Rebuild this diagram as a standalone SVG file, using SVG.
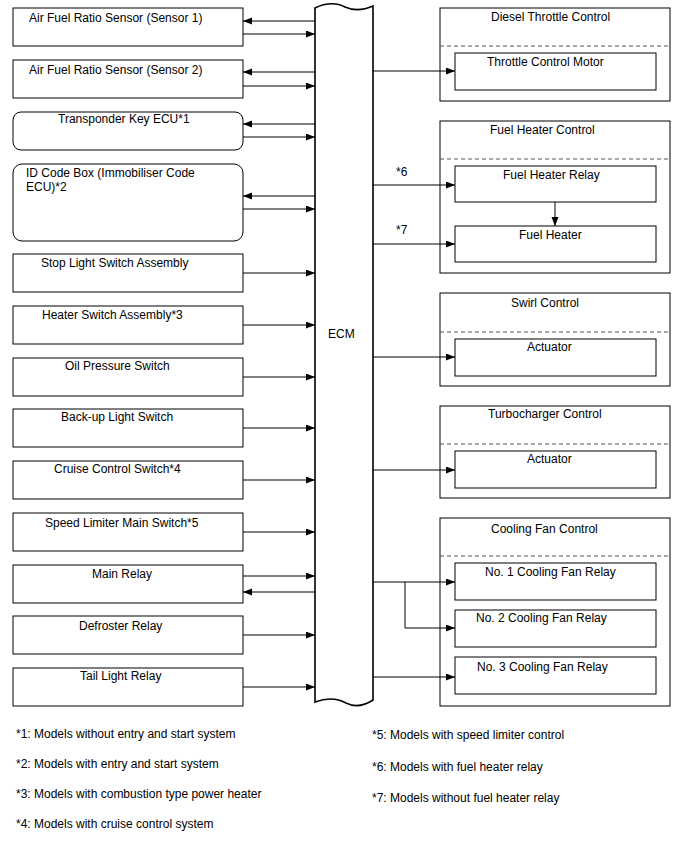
<svg xmlns="http://www.w3.org/2000/svg" width="688" height="852" viewBox="0 0 688 852">
<defs>
<marker id="ah" markerUnits="userSpaceOnUse" markerWidth="10" markerHeight="8" refX="9" refY="3.5" orient="auto">
<path d="M0,0 L9,3.5 L0,7 z" fill="#000"/>
</marker>
<style>
text{font-family:"Liberation Sans",Arial,sans-serif;font-size:12px;fill:#000}
.box{fill:#fff;stroke:#000;stroke-width:1}
.grp{fill:#fff;stroke:#000;stroke-width:1}
.dash{stroke:#555;stroke-width:1;stroke-dasharray:4,3;fill:none}
.c{stroke:#000;stroke-width:1;fill:none;marker-end:url(#ah)}
.l{stroke:#000;stroke-width:1;fill:none}
.ecm{fill:#fff;stroke:#000;stroke-width:1.6}
</style>
</defs>
<rect width="688" height="852" fill="#fff"/>

<g id="ecm">
<path class="ecm" d="M315,8 C327,2 338,3 345,7 C354,11 364,10 373,6 L373,700 C364,706 354,707 346,703 C337,698 326,698 315,702 Z"/>
<text x="328" y="338">ECM</text>
</g>

<g id="af1"><rect class="box" x="13" y="8" width="230" height="38"/><text x="29" y="22">Air Fuel Ratio Sensor (Sensor 1)</text></g>
<g id="af2"><rect class="box" x="13" y="60" width="230" height="38"/><text x="29" y="74">Air Fuel Ratio Sensor (Sensor 2)</text></g>
<g id="transponder"><rect class="box" x="13" y="112" width="230" height="38" rx="8"/><text x="58" y="123">Transponder Key ECU*1</text></g>
<g id="idcode"><rect class="box" x="13" y="164" width="230" height="77" rx="9"/><text x="26" y="177">ID Code Box (Immobiliser Code</text><text x="26" y="191">ECU)*2</text></g>
<g id="stop"><rect class="box" x="13" y="254" width="230" height="38"/><text x="41" y="267">Stop Light Switch Assembly</text></g>
<g id="heater"><rect class="box" x="13" y="306" width="230" height="38"/><text x="42" y="319">Heater Switch Assembly*3</text></g>
<g id="oil"><rect class="box" x="13" y="358" width="230" height="38"/><text x="65" y="370">Oil Pressure Switch</text></g>
<g id="backup"><rect class="box" x="13" y="409" width="230" height="38"/><text x="61" y="421">Back-up Light Switch</text></g>
<g id="cruise"><rect class="box" x="13" y="461" width="230" height="38"/><text x="54" y="473">Cruise Control Switch*4</text></g>
<g id="speed"><rect class="box" x="13" y="513" width="230" height="38"/><text x="45" y="527">Speed Limiter Main Switch*5</text></g>
<g id="mainrelay"><rect class="box" x="13" y="565" width="230" height="38"/><text x="92" y="578">Main Relay</text></g>
<g id="defroster"><rect class="box" x="13" y="616" width="230" height="38"/><text x="79" y="630">Defroster Relay</text></g>
<g id="tail"><rect class="box" x="13" y="668" width="230" height="38"/><text x="80" y="680">Tail Light Relay</text></g>

<g id="diesel">
<rect class="grp" x="440" y="8" width="230" height="93"/><line class="dash" x1="440" y1="46" x2="670" y2="46"/>
<text x="491" y="21">Diesel Throttle Control</text>
<g id="throttlemotor"><rect class="box" x="455" y="53" width="201" height="37"/><text x="487" y="66">Throttle Control Motor</text></g>
</g>
<g id="fuelheater">
<rect class="grp" x="440" y="121" width="230" height="152"/><line class="dash" x1="440" y1="159" x2="670" y2="159"/>
<text x="490" y="134">Fuel Heater Control</text>
<g id="fhrelay"><rect class="box" x="455" y="166" width="201" height="36"/><text x="503" y="179">Fuel Heater Relay</text></g>
<g id="fh"><rect class="box" x="455" y="226" width="201" height="36"/><text x="519" y="239">Fuel Heater</text></g>
</g>
<g id="swirl">
<rect class="grp" x="440" y="293" width="230" height="93"/><line class="dash" x1="440" y1="332" x2="670" y2="332"/>
<text x="511" y="307">Swirl Control</text>
<g id="swirlact"><rect class="box" x="455" y="339" width="201" height="37"/><text x="527" y="351">Actuator</text></g>
</g>
<g id="turbo">
<rect class="grp" x="440" y="406" width="230" height="92"/><line class="dash" x1="440" y1="444" x2="670" y2="444"/>
<text x="488" y="418">Turbocharger Control</text>
<g id="turboact"><rect class="box" x="455" y="451" width="201" height="37"/><text x="527" y="463">Actuator</text></g>
</g>
<g id="cooling">
<rect class="grp" x="440" y="518" width="230" height="188"/><line class="dash" x1="440" y1="556" x2="670" y2="556"/>
<text x="491" y="533">Cooling Fan Control</text>
<g id="fan1"><rect class="box" x="455" y="563" width="201" height="37"/><text x="485" y="576">No. 1 Cooling Fan Relay</text></g>
<g id="fan2"><rect class="box" x="455" y="610" width="201" height="37"/><text x="476" y="622">No. 2 Cooling Fan Relay</text></g>
<g id="fan3"><rect class="box" x="455" y="657" width="201" height="37"/><text x="477" y="671">No. 3 Cooling Fan Relay</text></g>
</g>

<g id="connectors">
<line class="c" x1="315" y1="21" x2="243" y2="21"/>
<line class="c" x1="243" y1="34" x2="315" y2="34"/>
<line class="c" x1="315" y1="72" x2="243" y2="72"/>
<line class="c" x1="243" y1="86" x2="315" y2="86"/>
<line class="c" x1="315" y1="124" x2="243" y2="124"/>
<line class="c" x1="243" y1="137" x2="315" y2="137"/>
<line class="c" x1="315" y1="196" x2="243" y2="196"/>
<line class="c" x1="243" y1="209" x2="315" y2="209"/>
<line class="c" x1="243" y1="273" x2="315" y2="273"/>
<line class="c" x1="243" y1="325" x2="315" y2="325"/>
<line class="c" x1="243" y1="377" x2="315" y2="377"/>
<line class="c" x1="243" y1="428" x2="315" y2="428"/>
<line class="c" x1="243" y1="480" x2="315" y2="480"/>
<line class="c" x1="243" y1="532" x2="315" y2="532"/>
<line class="c" x1="243" y1="576" x2="315" y2="576"/>
<line class="c" x1="315" y1="592" x2="243" y2="592"/>
<line class="c" x1="243" y1="635" x2="315" y2="635"/>
<line class="c" x1="243" y1="687" x2="315" y2="687"/>
<line class="c" x1="373" y1="71" x2="455" y2="71"/>
<line class="c" x1="373" y1="185" x2="455" y2="185"/>
<line class="c" x1="373" y1="244" x2="455" y2="244"/>
<line class="c" x1="555" y1="202" x2="555" y2="226"/>
<line class="c" x1="373" y1="357" x2="455" y2="357"/>
<line class="c" x1="373" y1="470" x2="455" y2="470"/>
<line class="c" x1="373" y1="582" x2="455" y2="582"/>
<polyline class="c" points="405,582 405,628 455,628"/>
<line class="c" x1="373" y1="677" x2="455" y2="677"/>
<text x="396" y="176">*6</text>
<text x="396" y="234">*7</text>
</g>

<g id="notes">
<text x="16" y="738">*1: Models without entry and start system</text>
<text x="16" y="768">*2: Models with entry and start system</text>
<text x="16" y="798">*3: Models with combustion type power heater</text>
<text x="16" y="828">*4: Models with cruise control system</text>
<text x="372" y="739">*5: Models with speed limiter control</text>
<text x="372" y="771">*6: Models with fuel heater relay</text>
<text x="372" y="802">*7: Models without fuel heater relay</text>
</g>
</svg>
